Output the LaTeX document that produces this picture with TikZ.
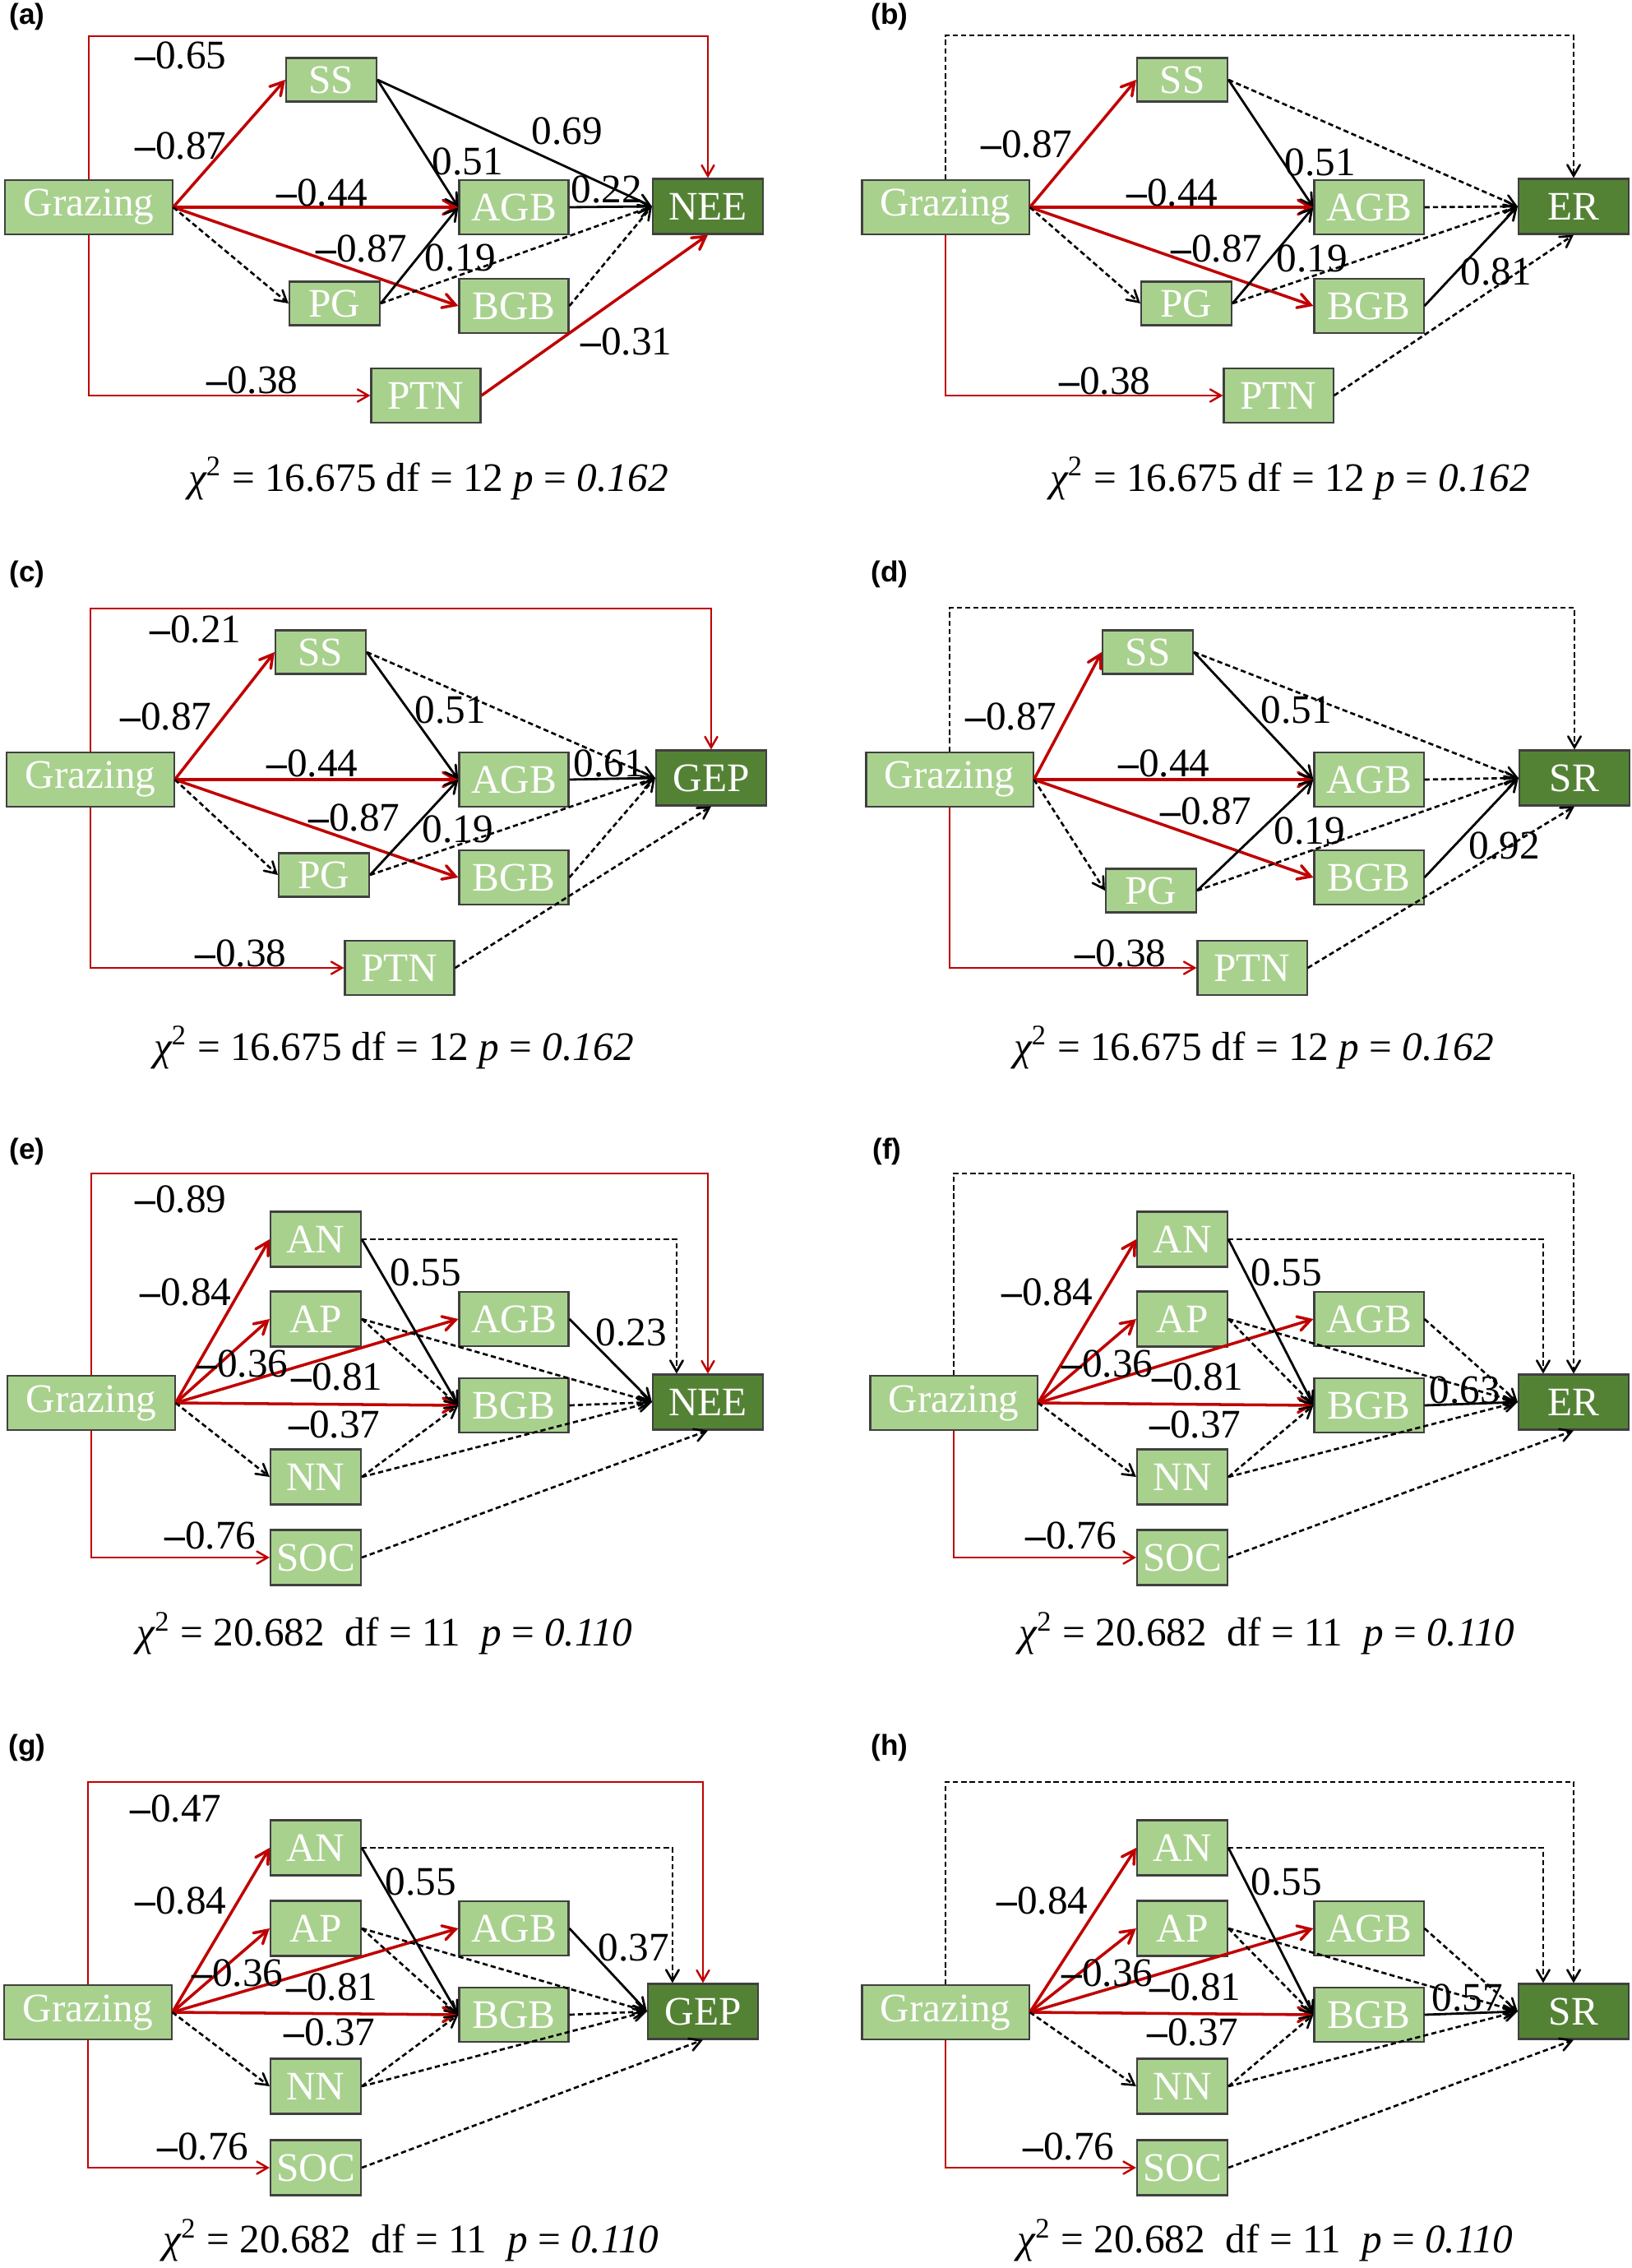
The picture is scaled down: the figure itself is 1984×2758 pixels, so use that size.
\documentclass[tikz,border=0pt]{standalone}
\usepackage{fontspec}
\setmainfont{Liberation Serif}
\newfontfamily\tagfont{Liberation Sans}
\usetikzlibrary{arrows}
\definecolor{boxgreen}{RGB}{169,209,142}
\definecolor{leafgreen}{RGB}{84,130,53}
\definecolor{pathred}{RGB}{192,0,0}
\newcommand{\nm}{{\bfseries –}}
\tikzset{
  box/.style={draw=black!75,line width=0.6pt,fill=boxgreen,text=white,inner sep=0pt},
  vsmall/.style={box,minimum width=1.10cm,minimum height=0.53cm},
  vmid/.style={box,minimum width=1.10cm,minimum height=0.67cm},
  vbig/.style={box,minimum width=1.33cm,minimum height=0.66cm},
  vgraz/.style={box,minimum width=2.03cm,minimum height=0.66cm},
  vresp/.style={box,fill=leafgreen,minimum width=1.34cm,minimum height=0.67cm},
  redpath/.style={->,draw=pathred,line width=1pt},
  redthin/.style={->,draw=pathred,line width=0.7pt},
  blkpath/.style={->,draw=black,line width=0.8pt},
  nspath/.style={->,draw=black,line width=0.75pt,dash pattern=on 1.8pt off 1.1pt},
  coef/.style={inner sep=0pt},
  plabel/.style={inner sep=0pt,font=\tagfont\bfseries\fontsize{10}{12}\selectfont},
  fitstat/.style={inner sep=0pt}
}
\begin{document}
\begin{tikzpicture}[x=0.01cm,y=-0.01cm,>=angle 60,every node/.style={font=\fontsize{14}{16}\selectfont}]
  \useasboundingbox (0,0) rectangle (1984,2758);

  \node[plabel] (a-tag) at (33,20) {(a)};
  \node[vgraz] (a-graz) at (108,252) {Grazing};
  \node[vsmall] (a-ss) at (403,97) {SS};
  \node[vbig] (a-agb) at (625,252) {AGB};
  \node[vresp] (a-nee) at (861,251) {NEE};
  \node[vsmall] (a-pg) at (407,369) {PG};
  \node[vbig] (a-bgb) at (625,372) {BGB};
  \node[vbig] (a-ptn) at (518,481) {PTN};
  \coordinate (a-top) at (500,44);
  \draw[redthin] (a-graz.north) |- (a-top) -| (a-nee.north);
  \draw[redthin] (a-graz.south) |- (a-ptn.west);
  \path (a-graz.east) edge[redpath] (a-ss.west)
  (a-graz.east) edge[redpath] (a-agb.west)
  (a-graz.east) edge[redpath] (a-bgb.west)
  (a-graz.east) edge[nspath] (a-pg.west)
  (a-ss.east) edge[blkpath] (a-agb.west)
  (a-ss.east) edge[blkpath] (a-nee.west)
  (a-agb.east) edge[blkpath] (a-nee.west)
  (a-pg.east) edge[blkpath] (a-agb.west)
  (a-pg.east) edge[nspath] (a-nee.west)
  (a-bgb.east) edge[nspath] (a-nee.west)
  (a-ptn.east) edge[redpath] (a-nee.south);
  \node[coef] (a-c1) at (220,67) {\nm0.65};
  \node[coef] (a-c2) at (220,177) {\nm0.87};
  \node[coef] (a-c3) at (392,234) {\nm0.44};
  \node[coef] (a-c4) at (569,196) {0.51};
  \node[coef] (a-c5) at (690,159) {0.69};
  \node[coef] (a-c6) at (738,230) {0.22};
  \node[coef] (a-c7) at (440,302) {\nm0.87};
  \node[coef] (a-c8) at (560,313) {0.19};
  \node[coef] (a-c9) at (762,415) {\nm0.31};
  \node[coef] (a-c10) at (307,462) {\nm0.38};
  \node[fitstat] (a-fit) at (521,582) {{\itshape χ}\textsuperscript{2} = 16.675 df = 12 {\itshape p} = {\itshape 0.162}};

  \node[plabel] (b-tag) at (1082,20) {(b)};
  \node[vgraz] (b-graz) at (1150,252) {Grazing};
  \node[vsmall] (b-ss) at (1438,97) {SS};
  \node[vbig] (b-agb) at (1665,252) {AGB};
  \node[vresp] (b-er) at (1914,251) {ER};
  \node[vsmall] (b-pg) at (1443,369) {PG};
  \node[vbig] (b-bgb) at (1665,372) {BGB};
  \node[vbig] (b-ptn) at (1555,481) {PTN};
  \coordinate (b-top) at (1500,43);
  \draw[nspath] (b-graz.north) |- (b-top) -| (b-er.north);
  \draw[redthin] (b-graz.south) |- (b-ptn.west);
  \path (b-graz.east) edge[redpath] (b-ss.west)
  (b-graz.east) edge[redpath] (b-agb.west)
  (b-graz.east) edge[redpath] (b-bgb.west)
  (b-graz.east) edge[nspath] (b-pg.west)
  (b-ss.east) edge[blkpath] (b-agb.west)
  (b-ss.east) edge[nspath] (b-er.west)
  (b-agb.east) edge[nspath] (b-er.west)
  (b-pg.east) edge[blkpath] (b-agb.west)
  (b-pg.east) edge[nspath] (b-er.west)
  (b-bgb.east) edge[blkpath] (b-er.west)
  (b-ptn.east) edge[nspath] (b-er.south);
  \node[coef] (b-c1) at (1249,175) {\nm0.87};
  \node[coef] (b-c2) at (1426,234) {\nm0.44};
  \node[coef] (b-c3) at (1606,197) {0.51};
  \node[coef] (b-c4) at (1480,302) {\nm0.87};
  \node[coef] (b-c5) at (1596,314) {0.19};
  \node[coef] (b-c6) at (1820,330) {0.81};
  \node[coef] (b-c7) at (1344,463) {\nm0.38};
  \node[fitstat] (b-fit) at (1569,582) {{\itshape χ}\textsuperscript{2} = 16.675 df = 12 {\itshape p} = {\itshape 0.162}};

  \node[plabel] (c-tag) at (33,698) {(c)};
  \node[vgraz] (c-graz) at (110,948) {Grazing};
  \node[vsmall] (c-ss) at (390,793) {SS};
  \node[vbig] (c-agb) at (625,948) {AGB};
  \node[vresp] (c-gep) at (865,946) {GEP};
  \node[vsmall] (c-pg) at (394,1064) {PG};
  \node[vbig] (c-bgb) at (625,1067) {BGB};
  \node[vbig] (c-ptn) at (486,1177) {PTN};
  \coordinate (c-top) at (500,740);
  \draw[redthin] (c-graz.north) |- (c-top) -| (c-gep.north);
  \draw[redthin] (c-graz.south) |- (c-ptn.west);
  \path (c-graz.east) edge[redpath] (c-ss.west)
  (c-graz.east) edge[redpath] (c-agb.west)
  (c-graz.east) edge[redpath] (c-bgb.west)
  (c-graz.east) edge[nspath] (c-pg.west)
  (c-ss.east) edge[blkpath] (c-agb.west)
  (c-ss.east) edge[nspath] (c-gep.west)
  (c-agb.east) edge[blkpath] (c-gep.west)
  (c-pg.east) edge[blkpath] (c-agb.west)
  (c-pg.east) edge[nspath] (c-gep.west)
  (c-bgb.east) edge[nspath] (c-gep.west)
  (c-ptn.east) edge[nspath] (c-gep.south);
  \node[coef] (c-c1) at (238,765) {\nm0.21};
  \node[coef] (c-c2) at (202,871) {\nm0.87};
  \node[coef] (c-c3) at (380,928) {\nm0.44};
  \node[coef] (c-c4) at (548,863) {0.51};
  \node[coef] (c-c5) at (741,928) {0.61};
  \node[coef] (c-c6) at (431,994) {\nm0.87};
  \node[coef] (c-c7) at (557,1008) {0.19};
  \node[coef] (c-c8) at (293,1159) {\nm0.38};
  \node[fitstat] (c-fit) at (479,1274) {{\itshape χ}\textsuperscript{2} = 16.675 df = 12 {\itshape p} = {\itshape 0.162}};

  \node[plabel] (d-tag) at (1082,698) {(d)};
  \node[vgraz] (d-graz) at (1155,948) {Grazing};
  \node[vsmall] (d-ss) at (1396,793) {SS};
  \node[vbig] (d-agb) at (1665,948) {AGB};
  \node[vresp] (d-sr) at (1915,946) {SR};
  \node[vsmall] (d-pg) at (1400,1083) {PG};
  \node[vbig] (d-bgb) at (1665,1067) {BGB};
  \node[vbig] (d-ptn) at (1523,1177) {PTN};
  \coordinate (d-top) at (1500,739);
  \draw[nspath] (d-graz.north) |- (d-top) -| (d-sr.north);
  \draw[redthin] (d-graz.south) |- (d-ptn.west);
  \path (d-graz.east) edge[redpath] (d-ss.west)
  (d-graz.east) edge[redpath] (d-agb.west)
  (d-graz.east) edge[redpath] (d-bgb.west)
  (d-graz.east) edge[nspath] (d-pg.west)
  (d-ss.east) edge[blkpath] (d-agb.west)
  (d-ss.east) edge[nspath] (d-sr.west)
  (d-agb.east) edge[nspath] (d-sr.west)
  (d-pg.east) edge[blkpath] (d-agb.west)
  (d-pg.east) edge[nspath] (d-sr.west)
  (d-bgb.east) edge[blkpath] (d-sr.west)
  (d-ptn.east) edge[nspath] (d-sr.south);
  \node[coef] (d-c1) at (1230,871) {\nm0.87};
  \node[coef] (d-c2) at (1416,928) {\nm0.44};
  \node[coef] (d-c3) at (1577,863) {0.51};
  \node[coef] (d-c4) at (1467,986) {\nm0.87};
  \node[coef] (d-c5) at (1593,1010) {0.19};
  \node[coef] (d-c6) at (1830,1028) {0.92};
  \node[coef] (d-c7) at (1363,1159) {\nm0.38};
  \node[fitstat] (d-fit) at (1525,1274) {{\itshape χ}\textsuperscript{2} = 16.675 df = 12 {\itshape p} = {\itshape 0.162}};

  \node[plabel] (e-tag) at (33,1400) {(e)};
  \node[vgraz] (e-graz) at (111,1706) {Grazing};
  \node[vmid] (e-an) at (384,1507) {AN};
  \node[vmid] (e-ap) at (384,1604) {AP};
  \node[vbig] (e-agb) at (625,1604) {AGB};
  \node[vbig] (e-bgb) at (625,1709) {BGB};
  \node[vresp] (e-nee) at (861,1705) {NEE};
  \node[vmid] (e-nn) at (384,1796) {NN};
  \node[vmid] (e-soc) at (384,1894) {SOC};
  \coordinate (e-top) at (500,1427);
  \draw[redthin] (e-graz.north) |- (e-top) -| (e-nee.north);
  \draw[redthin] (e-graz.south) |- (e-soc.west);
  \draw[nspath] (e-an.east) -| ([xshift=0.3cm]e-nee.north west);
  \path (e-graz.east) edge[redpath] (e-an.west)
  (e-graz.east) edge[redpath] (e-ap.west)
  (e-graz.east) edge[redpath] (e-agb.west)
  (e-graz.east) edge[redpath] (e-bgb.west)
  (e-graz.east) edge[nspath] (e-nn.west)
  (e-an.east) edge[blkpath] (e-bgb.west)
  (e-ap.east) edge[nspath] (e-bgb.west)
  (e-ap.east) edge[nspath] (e-nee.west)
  (e-agb.east) edge[blkpath] (e-nee.west)
  (e-bgb.east) edge[nspath] (e-nee.west)
  (e-nn.east) edge[nspath] (e-bgb.west)
  (e-nn.east) edge[nspath] (e-nee.west)
  (e-soc.east) edge[nspath] (e-nee.south);
  \node[coef] (e-c1) at (220,1458) {\nm0.89};
  \node[coef] (e-c2) at (226,1571) {\nm0.84};
  \node[coef] (e-c3) at (295,1658) {\nm0.36};
  \node[coef] (e-c4) at (410,1674) {\nm0.81};
  \node[coef] (e-c5) at (407,1732) {\nm0.37};
  \node[coef] (e-c6) at (518,1547) {0.55};
  \node[coef] (e-c7) at (768,1620) {0.23};
  \node[coef] (e-c8) at (256,1867) {\nm0.76};
  \node[fitstat] (e-fit) at (468,1986) {{\itshape χ}\textsuperscript{2} = 20.682\ \ df = 11\ \ {\itshape p} = {\itshape 0.110}};

  \node[plabel] (f-tag) at (1079,1400) {(f)};
  \node[vgraz] (f-graz) at (1160,1706) {Grazing};
  \node[vmid] (f-an) at (1438,1507) {AN};
  \node[vmid] (f-ap) at (1438,1604) {AP};
  \node[vbig] (f-agb) at (1665,1604) {AGB};
  \node[vbig] (f-bgb) at (1665,1709) {BGB};
  \node[vresp] (f-er) at (1914,1705) {ER};
  \node[vmid] (f-nn) at (1438,1796) {NN};
  \node[vmid] (f-soc) at (1438,1894) {SOC};
  \coordinate (f-top) at (1500,1427);
  \draw[nspath] (f-graz.north) |- (f-top) -| (f-er.north);
  \draw[redthin] (f-graz.south) |- (f-soc.west);
  \draw[nspath] (f-an.east) -| ([xshift=0.31cm]f-er.north west);
  \path (f-graz.east) edge[redpath] (f-an.west)
  (f-graz.east) edge[redpath] (f-ap.west)
  (f-graz.east) edge[redpath] (f-agb.west)
  (f-graz.east) edge[redpath] (f-bgb.west)
  (f-graz.east) edge[nspath] (f-nn.west)
  (f-an.east) edge[blkpath] (f-bgb.west)
  (f-ap.east) edge[nspath] (f-bgb.west)
  (f-ap.east) edge[nspath] (f-er.west)
  (f-agb.east) edge[nspath] (f-er.west)
  (f-bgb.east) edge[blkpath] (f-er.west)
  (f-nn.east) edge[nspath] (f-bgb.west)
  (f-nn.east) edge[nspath] (f-er.west)
  (f-soc.east) edge[nspath] (f-er.south);
  \node[coef] (f-c1) at (1274,1571) {\nm0.84};
  \node[coef] (f-c2) at (1347,1658) {\nm0.36};
  \node[coef] (f-c3) at (1457,1674) {\nm0.81};
  \node[coef] (f-c4) at (1454,1732) {\nm0.37};
  \node[coef] (f-c5) at (1565,1547) {0.55};
  \node[coef] (f-c6) at (1782,1690) {0.63};
  \node[coef] (f-c7) at (1303,1867) {\nm0.76};
  \node[fitstat] (f-fit) at (1541,1986) {{\itshape χ}\textsuperscript{2} = 20.682\ \ df = 11\ \ {\itshape p} = {\itshape 0.110}};

  \node[plabel] (g-tag) at (33,2125) {(g)};
  \node[vgraz] (g-graz) at (107,2447) {Grazing};
  \node[vmid] (g-an) at (384,2247) {AN};
  \node[vmid] (g-ap) at (384,2345) {AP};
  \node[vbig] (g-agb) at (625,2345) {AGB};
  \node[vbig] (g-bgb) at (625,2450) {BGB};
  \node[vresp] (g-gep) at (855,2446) {GEP};
  \node[vmid] (g-nn) at (384,2537) {NN};
  \node[vmid] (g-soc) at (384,2636) {SOC};
  \coordinate (g-top) at (500,2167);
  \draw[redthin] (g-graz.north) |- (g-top) -| (g-gep.north);
  \draw[redthin] (g-graz.south) |- (g-soc.west);
  \draw[nspath] (g-an.east) -| ([xshift=0.31cm]g-gep.north west);
  \path (g-graz.east) edge[redpath] (g-an.west)
  (g-graz.east) edge[redpath] (g-ap.west)
  (g-graz.east) edge[redpath] (g-agb.west)
  (g-graz.east) edge[redpath] (g-bgb.west)
  (g-graz.east) edge[nspath] (g-nn.west)
  (g-an.east) edge[blkpath] (g-bgb.west)
  (g-ap.east) edge[nspath] (g-bgb.west)
  (g-ap.east) edge[nspath] (g-gep.west)
  (g-agb.east) edge[blkpath] (g-gep.west)
  (g-bgb.east) edge[nspath] (g-gep.west)
  (g-nn.east) edge[nspath] (g-bgb.west)
  (g-nn.east) edge[nspath] (g-gep.west)
  (g-soc.east) edge[nspath] (g-gep.south);
  \node[coef] (g-c1) at (214,2199) {\nm0.47};
  \node[coef] (g-c2) at (220,2311) {\nm0.84};
  \node[coef] (g-c3) at (289,2399) {\nm0.36};
  \node[coef] (g-c4) at (404,2416) {\nm0.81};
  \node[coef] (g-c5) at (401,2471) {\nm0.37};
  \node[coef] (g-c6) at (512,2288) {0.55};
  \node[coef] (g-c7) at (771,2368) {0.37};
  \node[coef] (g-c8) at (247,2610) {\nm0.76};
  \node[fitstat] (g-fit) at (500,2724) {{\itshape χ}\textsuperscript{2} = 20.682\ \ df = 11\ \ {\itshape p} = {\itshape 0.110}};

  \node[plabel] (h-tag) at (1082,2125) {(h)};
  \node[vgraz] (h-graz) at (1150,2447) {Grazing};
  \node[vmid] (h-an) at (1438,2247) {AN};
  \node[vmid] (h-ap) at (1438,2345) {AP};
  \node[vbig] (h-agb) at (1665,2345) {AGB};
  \node[vbig] (h-bgb) at (1665,2450) {BGB};
  \node[vresp] (h-sr) at (1914,2446) {SR};
  \node[vmid] (h-nn) at (1438,2537) {NN};
  \node[vmid] (h-soc) at (1438,2636) {SOC};
  \coordinate (h-top) at (1500,2167);
  \draw[nspath] (h-graz.north) |- (h-top) -| (h-sr.north);
  \draw[redthin] (h-graz.south) |- (h-soc.west);
  \draw[nspath] (h-an.east) -| ([xshift=0.31cm]h-sr.north west);
  \path (h-graz.east) edge[redpath] (h-an.west)
  (h-graz.east) edge[redpath] (h-ap.west)
  (h-graz.east) edge[redpath] (h-agb.west)
  (h-graz.east) edge[redpath] (h-bgb.west)
  (h-graz.east) edge[nspath] (h-nn.west)
  (h-an.east) edge[blkpath] (h-bgb.west)
  (h-ap.east) edge[nspath] (h-bgb.west)
  (h-ap.east) edge[nspath] (h-sr.west)
  (h-agb.east) edge[nspath] (h-sr.west)
  (h-bgb.east) edge[blkpath] (h-sr.west)
  (h-nn.east) edge[nspath] (h-bgb.west)
  (h-nn.east) edge[nspath] (h-sr.west)
  (h-soc.east) edge[nspath] (h-sr.south);
  \node[coef] (h-c1) at (1268,2311) {\nm0.84};
  \node[coef] (h-c2) at (1347,2399) {\nm0.36};
  \node[coef] (h-c3) at (1454,2416) {\nm0.81};
  \node[coef] (h-c4) at (1451,2471) {\nm0.37};
  \node[coef] (h-c5) at (1565,2288) {0.55};
  \node[coef] (h-c6) at (1785,2429) {0.57};
  \node[coef] (h-c7) at (1300,2610) {\nm0.76};
  \node[fitstat] (h-fit) at (1539,2724) {{\itshape χ}\textsuperscript{2} = 20.682\ \ df = 11\ \ {\itshape p} = {\itshape 0.110}};
\end{tikzpicture}
\end{document}
